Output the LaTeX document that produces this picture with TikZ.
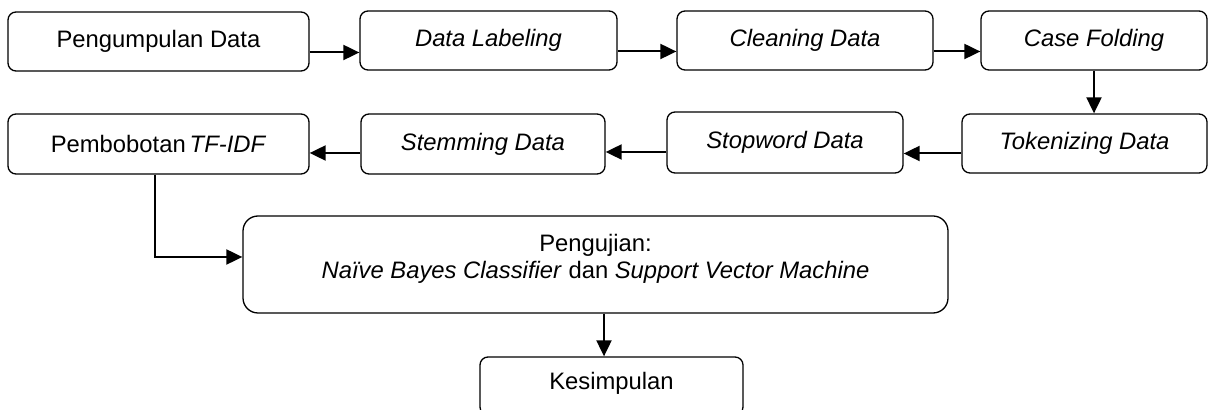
\documentclass[tikz,border=0pt]{standalone}
\usepackage{fontspec}
\setmainfont{Liberation Sans}
\usetikzlibrary{arrows.meta}
\tikzset{
  stepbox/.style={
    draw,
    line width=0.65pt,
    rounded corners=4pt,
    inner sep=0pt,
    align=center,
    minimum height=29.5pt
  },
  flow/.style={
    line width=1pt,
    -{Triangle[length=8pt,width=7.5pt]}
  },
  every picture/.style = {
    font=\fontsize{11.9}{13.5}\selectfont
  }
}

\begin{document}
\begin{tikzpicture}[x=0.5pt,y=-0.5pt]
    \useasboundingbox (0,0) rectangle (1208,410);
    % first row
    \node[stepbox, minimum width=150.5pt] (kumpul) at (158.5,41.5) {Pengumpulan Data};
    \node[stepbox, minimum width=128.5pt] (label) at (488.5,40.5) {\textit{Data Labeling}};
    \node[stepbox, minimum width=128pt] (clean) at (805,40.5) {\textit{Cleaning Data}};
    \node[stepbox, minimum width=113pt] (fold) at (1094,40.5) {\textit{Case Folding}};
    % second row
    \node[stepbox, minimum width=150.5pt, minimum height=30pt] (tfidf) at (158.5,144) {Pembobotan\,\textit{TF-IDF}};
    \node[stepbox, minimum width=122pt, minimum height=30pt] (stem) at (483,144) {\textit{Stemming Data}};
    \node[stepbox, minimum width=118pt, minimum height=30.5pt] (stop) at (785,142.5) {\textit{Stopword Data}};
    \node[stepbox, minimum width=122.5pt] (token) at (1084.5,143.5) {\textit{Tokenizing Data}};
    % bottom
    \node[stepbox, rounded corners=7.5pt, minimum width=352.5pt, minimum height=48.5pt, text depth=8.5pt] (uji) at (595.5,264.5)
        {Pengujian:\\\textit{Naïve Bayes Classifier} dan \textit{Support Vector Machine}};
    \node[stepbox, minimum width=131.5pt, minimum height=29pt, text depth=5.5pt] (simpul) at (611.5,386) {Kesimpulan};

    \draw[flow] ([yshift=-5.5pt]kumpul.east) -- ([yshift=-5.5pt]kumpul.east -| label.west);
    \draw[flow] ([yshift=-5.5pt]label.east) -- ([yshift=-5.5pt]label.east -| clean.west);
    \draw[flow] ([yshift=-5.5pt]clean.east) -- ([yshift=-5.5pt]clean.east -| fold.west);
    \draw[flow] (fold.south) -- (fold.south |- token.north);
    \draw[flow] ([yshift=-5pt]token.west) -- ([yshift=-5pt]token.west -| stop.east);
    \draw[flow] ([yshift=-4.75pt]stop.west) -- ([yshift=-4.75pt]stop.west -| stem.east);
    \draw[flow] ([yshift=-4.5pt]stem.west) -- ([yshift=-4.5pt]stem.west -| tfidf.east);
    \draw[flow] ([xshift=-1.75pt]tfidf.south) |- ([yshift=3.75pt]uji.west);
    \draw[flow] ([xshift=-3.75pt]simpul.north |- uji.south) -- ([xshift=-3.75pt]simpul.north);
\end{tikzpicture}
\end{document}
